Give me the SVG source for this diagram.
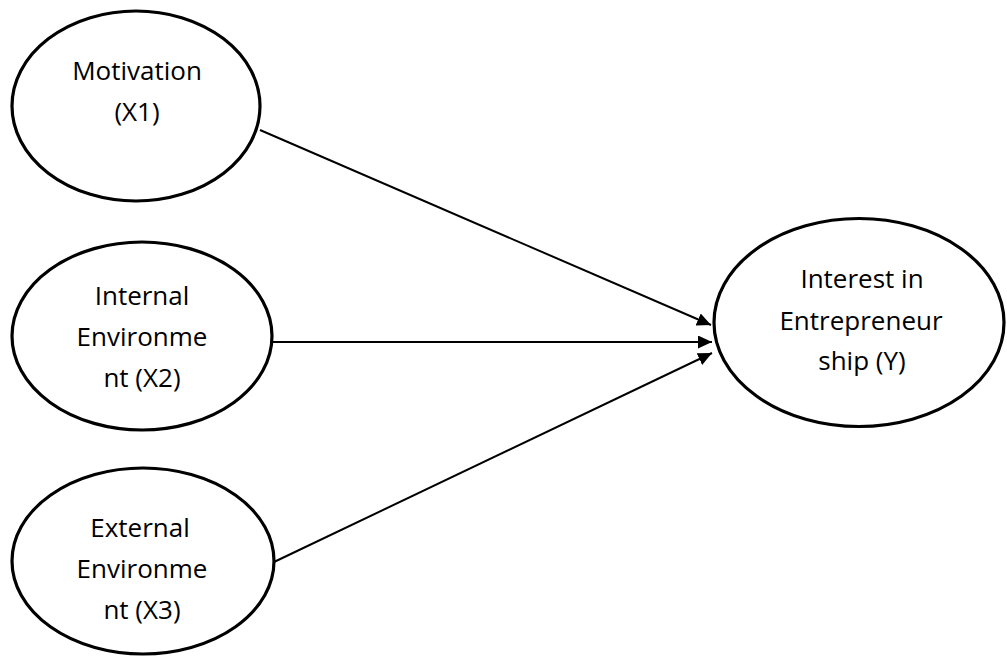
<svg xmlns="http://www.w3.org/2000/svg" width="1007" height="658" viewBox="0 0 1007 658">
<style>
.node{fill:#fff;stroke:#000;stroke-width:3.2}
.lbl{font-family:"Open Sans","Noto Sans",sans-serif;font-size:26px;fill:#000;text-anchor:middle}
.edge{stroke:#000;stroke-width:2;fill:none;marker-end:url(#ah)}
</style>
<defs>
<marker id="ah" markerUnits="userSpaceOnUse" markerWidth="16" markerHeight="14" refX="14" refY="6.5" orient="auto">
<path d="M0,0 L14,6.5 L0,13 Z" fill="#000"/>
</marker>
</defs>
<rect width="1007" height="658" fill="#fff"/>
<g id="connectors">
<line class="edge" x1="260" y1="130" x2="711" y2="325"/>
<line class="edge" x1="272" y1="342" x2="712" y2="342"/>
<line class="edge" x1="274" y1="562" x2="712" y2="353"/>
</g>
<g id="motivation">
<ellipse class="node" cx="136" cy="106" rx="124" ry="95"/>
<text class="lbl" x="137" y="80">Motivation</text>
<text class="lbl" x="137" y="121">(X1)</text>
</g>
<g id="internal">
<ellipse class="node" cx="142" cy="336" rx="130" ry="94"/>
<text class="lbl" x="142" y="305">Internal</text>
<text class="lbl" x="142" y="346">Environme</text>
<text class="lbl" x="142" y="387">nt (X2)</text>
</g>
<g id="external">
<ellipse class="node" cx="143" cy="561" rx="131" ry="93"/>
<text class="lbl" x="140" y="537">External</text>
<text class="lbl" x="142" y="578">Environme</text>
<text class="lbl" x="142" y="619">nt (X3)</text>
</g>
<g id="interest">
<ellipse class="node" cx="859" cy="322.5" rx="145" ry="104"/>
<text class="lbl" x="862" y="288">Interest in</text>
<text class="lbl" x="861" y="330">Entrepreneur</text>
<text class="lbl" x="862" y="370">ship (Y)</text>
</g>
</svg>
